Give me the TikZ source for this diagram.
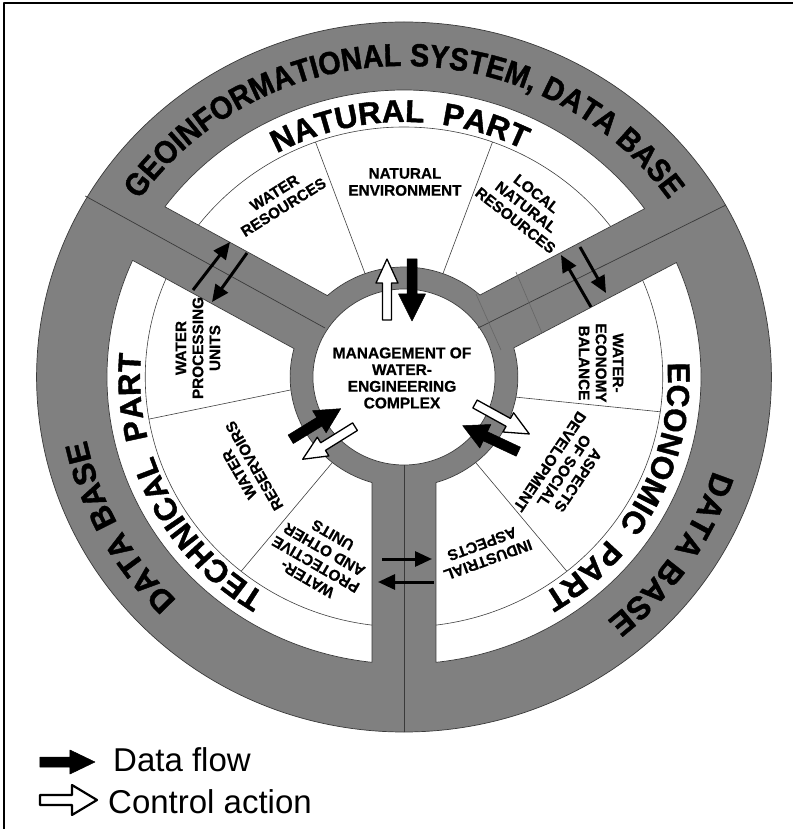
\documentclass[tikz,border=0pt]{standalone}
\usepackage{fontspec}
\setmainfont{Liberation Sans}
\newfontfamily\condbold[FakeStretch=0.9,FakeBold=1.3]{Liberation Sans Bold}
\newfontfamily\heavybold[FakeBold=1.3]{Liberation Sans Bold}
\newfontfamily\segbold[FakeBold=0.7]{Liberation Sans Bold}
\usetikzlibrary{decorations.text,arrows.meta,calc}
\definecolor{ringgray}{HTML}{808080}
\definecolor{edgegray}{HTML}{3A3A3A}
\newcommand{\segfont}{\segbold\fontsize{15.3}{17}\selectfont}
\newcommand{\outerfont}{\condbold\fontsize{32}{32}\selectfont}
\newcommand{\dbfont}{\heavybold\fontsize{32}{32}\selectfont}
\newcommand{\partfont}{\heavybold\fontsize{31.5}{31.5}\selectfont}
\def\Ro{355}\def\Rw{287}\def\Rt{250}\def\Rr{110}\def\Rc{88}\def\hw{31}
\def\thA{28.5}\def\oA{6}
\def\thB{150.5}\def\oB{-3.4}
\def\thC{270}\def\oC{0}
\newcommand{\mksector}[5]{%
  \pgfmathsetmacro{\mkSao}{#2+asin((#3)/\Rw)}%
  \pgfmathsetmacro{\mkSbo}{#4+asin((#5)/\Rw)}%
  \pgfmathsetmacro{\mkSai}{#2+asin((#3)/\Rr)}%
  \pgfmathsetmacro{\mkSbi}{#4+asin((#5)/\Rr)}%
  \expandafter\xdef\csname sec#1\endcsname{(\mkSao:\Rw) arc[start angle=\mkSao, end angle=\mkSbo, radius=\Rw] -- (\mkSbi:\Rr) arc[start angle=\mkSbi, end angle=\mkSai, radius=\Rr] -- cycle}%
}
\mksector{nat}{\thA}{\oA+\hw}{\thB}{\oB-\hw}
\mksector{tech}{\thB}{\oB+\hw}{\thC}{\oC-\hw}
\mksector{eco}{\thC}{\oC+\hw}{\thA+360}{\oA-\hw}
% block arrow: style, tail x, tail y, angle, length, shaft half, head half, head length
\newcommand{\blockarrow}[8]{%
  \begin{scope}[shift={(#2,#3)},rotate=#4]
    \draw[#1] (0,-#6) -- ({#5-#8},-#6) -- ({#5-#8},-#7) -- (#5,0) -- ({#5-#8},#7) -- ({#5-#8},#6) -- (0,#6) -- cycle;
  \end{scope}}
\tikzset{
  edge/.style={draw=edgegray, line width=0.7pt},
  thinline/.style={draw=black!75, line width=0.6pt},
  crossline/.style={draw=black!60, line width=0.6pt},
  segtext/.style={font=\segfont, align=center, inner sep=0pt},
  dataarrow/.style={fill=black, draw=black, line width=0.5pt},
  ctrlarrow/.style={fill=white, draw=black, line width=1.3pt},
  flow/.style={line width=3pt, -{Triangle[length=17pt,width=15pt]}},
}
\begin{document}
\begin{tikzpicture}[x=1pt,y=1pt,line join=round]
\useasboundingbox (-404,-452) rectangle (389,377);
\fill[white] (-404,-452) rectangle (389,377);
\draw[line width=1.4pt] (-400,-452) -- (-400,374) -- (389,374);

\begin{scope}[xscale=1.035]
  \fill[ringgray] (0,0) circle[radius=\Ro];
  \draw[edge] (0,0) circle[radius=\Ro];
  \fill[white] \secnat;
  \fill[white] \sectech;
  \fill[white] \sececo;
  \begin{scope}
    \clip \secnat;
    \draw[thinline] (0,0) circle[radius=\Rt];
    \draw[thinline] (110:100) -- (110:\Rt);
    \draw[thinline] (70:100) -- (70:\Rt);
  \end{scope}
  \begin{scope}
    \clip \sectech;
    \draw[thinline] (0,0) circle[radius=\Rt];
    \draw[thinline] (186.2:100) -- (189.7:\Rt);
    \draw[thinline] (231:100) -- (231:\Rt);
  \end{scope}
  \begin{scope}
    \clip \sececo;
    \draw[thinline] (0,0) circle[radius=\Rt];
    \draw[thinline] (-11:100) -- (-8:\Rt);
    \draw[thinline] (-51:100) -- (-51:\Rt);
  \end{scope}
  \draw[edge] \secnat;
  \draw[edge] \sectech;
  \draw[edge] \sececo;
  \fill[white] (0,0) circle[radius=\Rc];
  \draw[edge] (0,0) circle[radius=\Rc];
  % spoke centre lines
  \draw[edge] (-308,181) -- (-76.3,49);
  \draw[edge] (311.1,172) -- (71.5,49);
  \draw[edge] (0,-355) -- (0,-\Rc);
  % cross lines on the right spoke near the ring
  \draw[crossline] (108.2,105) -- (133.3,44);
  \draw[crossline] (69.6,83) -- (93.7,27);
  % curved texts
  \path[decorate, decoration={text along path, text align=center,
      text={|\outerfont|GEOINFORMATIONAL SYSTEM, DATA BASE}}]
      (170:311) arc[start angle=170, end angle=10, radius=311];
  \path[decorate, decoration={text along path, text align=center,
      text={|\dbfont|DATA BASE}}]
      (268:313) arc[start angle=268, end angle=148, radius=313];
  \path[decorate, decoration={text along path, text align=center,
      text={|\dbfont|DATA BASE}}]
      (46.5:313) arc[start angle=46.5, end angle=-113.5, radius=313];
  \path[decorate, decoration={text along path, text align=center,
      text={|\partfont|NATURAL {\ }PART}}]
      (171:255) arc[start angle=171, end angle=11, radius=255];
  \path[decorate, decoration={text along path, text align=center,
      text={|\partfont|TECHNICAL {\ }PART}}]
      (286:255) arc[start angle=286, end angle=126, radius=255];
  \path[decorate, decoration={text along path, text align=center,
      text={|\partfont|ECONOMIC {\ }PART}}]
      (53:255) arc[start angle=53, end angle=-107, radius=255];
\end{scope}

% segment texts
\node[segtext, rotate=32] (wres) at (-125,177) {WATER\\RESOURCES};
\node[segtext] (nenv) at (1,195) {NATURAL\\ENVIRONMENT};
\node[segtext, rotate=-38] (lnr) at (122,170) {LOCAL\\NATURAL\\RESOURCES};
\node[segtext, rotate=-90] (web) at (197,14) {WATER-\\ECONOMY\\BALANCE};
\node[segtext, rotate=-124] (asd) at (160,-94) {ASPECTS\\OF SOCIAL\\DEVELOPMENT};
\node[segtext, rotate=200] (ind) at (81,-175) {INDUSTRIAL\\ASPECTS};
\node[segtext, rotate=150] (wpo) at (-84,-180) {WATER-\\PROTECTIVE\\AND OTHER\\UNITS};
\node[segtext, rotate=120] (wrs) at (-157,-93) {WATER\\RESERVOIRS};
\node[segtext, rotate=90] (wpu) at (-206,29) {WATER\\PROCESSING\\UNITS};
\node[font=\segbold\fontsize{15.5}{16.7}\selectfont, align=center, inner sep=0pt] (mgmt) at (-2,-1)
  {MANAGEMENT OF\\WATER-\\ENGINEERING\\COMPLEX};

% thin data-flow arrows between parts
\coordinate (a1s) at (-211,87);  \coordinate (a1e) at (-174,135);
\coordinate (a2s) at (-157,124); \coordinate (a2e) at (-192,75);
\coordinate (a3s) at (187,70);   \coordinate (a3e) at (157,122);
\coordinate (a4s) at (176,130);  \coordinate (a4e) at (202,84);
\coordinate (a5s) at (-22,-182); \coordinate (a5e) at (28,-182);
\coordinate (a6s) at (30,-205);  \coordinate (a6e) at (-26,-205);
\draw[flow] (a1s) -- (a1e);
\draw[flow] (a2s) -- (a2e);
\draw[flow] (a3s) -- (a3e);
\draw[flow] (a4s) -- (a4e);
\draw[flow] (a5s) -- (a5e);
\draw[flow] (a6s) -- (a6e);

% block arrows at the core
\blockarrow{dataarrow}{8}{118}{-90}{62}{5}{13.5}{27}
\blockarrow{ctrlarrow}{-17}{57}{90}{61}{4.5}{11}{24}
\blockarrow{dataarrow}{-113.3}{-62.3}{31.5}{58.6}{5}{13}{25}
\blockarrow{ctrlarrow}{-49}{-49.7}{211.9}{61.6}{4.5}{11}{24}
\blockarrow{ctrlarrow}{71}{-27}{-28.9}{62}{4.5}{11}{24}
\blockarrow{dataarrow}{114.3}{-74.7}{154.9}{61.4}{5}{13}{25}

% legend
\blockarrow{dataarrow}{-364}{-385}{0}{55}{5}{12}{25}
\blockarrow{ctrlarrow,line width=2.2pt}{-364}{-423}{0}{57}{5}{15}{25}
\node[anchor=base west, font=\fontsize{33}{33}\selectfont, inner sep=0pt] (lg1) at (-291,-394) {Data flow};
\node[anchor=base west, font=\fontsize{33}{33}\selectfont, inner sep=0pt] (lg2) at (-296,-436) {Control action};
\end{tikzpicture}
\end{document}
